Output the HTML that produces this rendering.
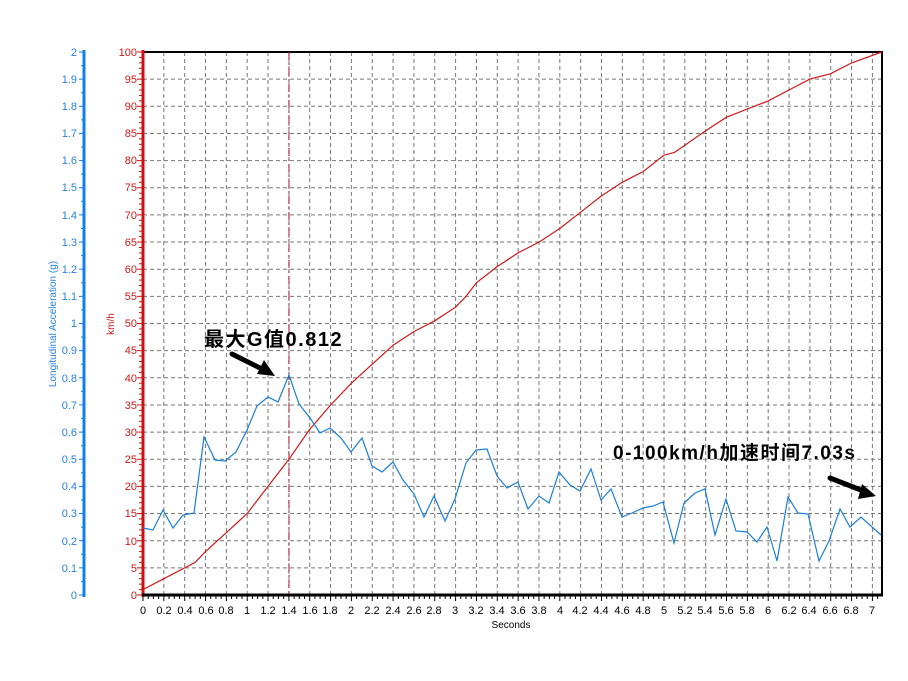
<!DOCTYPE html>
<html><head><meta charset="utf-8"><style>
html,body{margin:0;padding:0;background:#fff;}
svg{display:block;font-family:"Liberation Sans",Arial,sans-serif;}
</style></head><body>
<svg id="s" width="908" height="681" viewBox="0 0 908 681" xmlns="http://www.w3.org/2000/svg">
<g id="grid" stroke="#777" stroke-width="1" stroke-dasharray="4,3"></g>
<rect x="143" y="52" width="739" height="543" fill="none" stroke="#000" stroke-width="2"/>
<line x1="289" y1="52" x2="289" y2="595" stroke="#b0102a" stroke-width="1" stroke-dasharray="8,3,2,3"/>
<g id="ticks"></g>
<line x1="143" y1="50" x2="143" y2="597" stroke="#d01010" stroke-width="3"/>
<line x1="142" y1="595" x2="883" y2="595" stroke="#000" stroke-width="3"/>
<line x1="84" y1="50" x2="84" y2="597" stroke="#1080e8" stroke-width="3"/>
<polyline id="red" fill="none" stroke="#d01818" stroke-width="1.2"/>
<polyline id="blue" fill="none" stroke="#1a7fd6" stroke-width="1.2" points="143,528 153,530 163,510 173,528 183,515 194,513 204,437 215,460 225,461 236,452 247,430 257,406 268,397 278,402 289,375 299,404 310,418 320,433 330,428 341,438 351,452 362,438 372,466 382,472 393,462 403,480 414,494 424,517 434,496 445,521 455,499 466,463 476,450 487,449 497,476 507,488 518,482 528,509 539,496 549,503 559,472 570,485 580,491 591,469 601,500 611,489 622,517 632,513 643,508 653,506 663,502 674,543 684,503 695,493 705,489 715,535 726,499 736,531 747,532 757,542 767,527 777,561 788,497 798,513 808,514 819,561 829,541 840,509 850,527 861,517 871,526 881,535"/>
<g font-size="11" fill="#2a80e0" text-anchor="end">
<text x="77" y="56">2</text><text x="77" y="83">1.9</text><text x="77" y="110">1.8</text><text x="77" y="137">1.7</text><text x="77" y="164">1.6</text><text x="77" y="191">1.5</text><text x="77" y="219">1.4</text><text x="77" y="246">1.3</text><text x="77" y="273">1.2</text><text x="77" y="300">1.1</text><text x="77" y="327">1</text><text x="77" y="354">0.9</text><text x="77" y="382">0.8</text><text x="77" y="409">0.7</text><text x="77" y="436">0.6</text><text x="77" y="463">0.5</text><text x="77" y="490">0.4</text><text x="77" y="517">0.3</text><text x="77" y="545">0.2</text><text x="77" y="572">0.1</text><text x="77" y="599">0</text>
</g>
<g font-size="11" fill="#d01818" text-anchor="end">
<text x="137" y="56">100</text><text x="137" y="83">95</text><text x="137" y="110">90</text><text x="137" y="137">85</text><text x="137" y="164">80</text><text x="137" y="191">75</text><text x="137" y="219">70</text><text x="137" y="246">65</text><text x="137" y="273">60</text><text x="137" y="300">55</text><text x="137" y="327">50</text><text x="137" y="354">45</text><text x="137" y="382">40</text><text x="137" y="409">35</text><text x="137" y="436">30</text><text x="137" y="463">25</text><text x="137" y="490">20</text><text x="137" y="517">15</text><text x="137" y="545">10</text><text x="137" y="572">5</text><text x="137" y="599">0</text>
</g>
<g font-size="11" fill="#000" text-anchor="middle">
<text x="143" y="614">0</text><text x="164" y="614">0.2</text><text x="185" y="614">0.4</text><text x="206" y="614">0.6</text><text x="226" y="614">0.8</text><text x="247" y="614">1</text><text x="268" y="614">1.2</text><text x="289" y="614">1.4</text><text x="310" y="614">1.6</text><text x="330" y="614">1.8</text><text x="351" y="614">2</text><text x="372" y="614">2.2</text><text x="393" y="614">2.4</text><text x="414" y="614">2.6</text><text x="434" y="614">2.8</text><text x="455" y="614">3</text><text x="476" y="614">3.2</text><text x="497" y="614">3.4</text><text x="518" y="614">3.6</text><text x="539" y="614">3.8</text><text x="560" y="614">4</text><text x="580" y="614">4.2</text><text x="601" y="614">4.4</text><text x="622" y="614">4.6</text><text x="643" y="614">4.8</text><text x="664" y="614">5</text><text x="685" y="614">5.2</text><text x="705" y="614">5.4</text><text x="726" y="614">5.6</text><text x="747" y="614">5.8</text><text x="768" y="614">6</text><text x="789" y="614">6.2</text><text x="809" y="614">6.4</text><text x="830" y="614">6.6</text><text x="851" y="614">6.8</text><text x="872" y="614">7</text>
<text x="511" y="628" font-size="10">Seconds</text>
</g>
<text transform="translate(56,324) rotate(-90)" font-size="10" fill="#2a80e0" text-anchor="middle">Longitudinal Acceleration (g)</text>
<text transform="translate(114,324) rotate(-90)" font-size="10" fill="#d01818" text-anchor="middle">km/h</text>
<text x="204" y="346" font-size="20" font-weight="bold" fill="#000" letter-spacing="1.5" style="font-family:'Liberation Sans','Noto Sans CJK SC',sans-serif">最大G值0.812</text>
<text x="613" y="459" font-size="19" font-weight="bold" fill="#000" letter-spacing="1.5" style="font-family:'Liberation Sans','Noto Sans CJK SC',sans-serif">0-100km/h加速时间7.03s</text>
<g stroke="#000" stroke-width="5" stroke-linecap="round"><line x1="232" y1="354" x2="266" y2="371"/><line x1="830" y1="478" x2="866" y2="492"/></g>
<polygon points="275,376 257,374 264,360" fill="#000"/>
<polygon points="876,496 858,499 862,484" fill="#000"/>
</svg>
<script>
var ns="http://www.w3.org/2000/svg";
function L(g,x1,y1,x2,y2,attrs){var l=document.createElementNS(ns,"line");l.setAttribute("x1",x1);l.setAttribute("y1",y1);l.setAttribute("x2",x2);l.setAttribute("y2",y2);for(var k in attrs)l.setAttribute(k,attrs[k]);g.appendChild(l);}
var g=document.getElementById("grid"),t=document.getElementById("ticks");
var X0=143,SX=104.2,Y0=595,SY=5.43;
for(var i=1;i<=35;i++){var x=X0+i*SX/5;L(g,x,52,x,595,{});}
for(var j=1;j<20;j++){var y=Y0-j*5*SY;L(g,143,y,882,y,{});}
for(var i=0;i<=141;i++){var x=X0+i*SX/20;if(x>882)break;L(t,x,595,x,i%4==0?601:599,{stroke:"#000","stroke-width":1});}
for(var j=0;j<=100;j++){var y=Y0-j*SY;L(t,143,y,j%5==0?137:139,y,{stroke:"#d01010","stroke-width":1});}
for(var j=0;j<=40;j++){var y=Y0-j*2.5*SY;L(t,84,y,j%2==0?79:81,y,{stroke:"#1080e8","stroke-width":1});}
var r=[[0,1],[0.2,3],[0.4,5],[0.5,6],[0.6,8],[0.8,11.5],[1,15],[1.2,20],[1.4,25],[1.6,30.5],[1.8,35],[2,39],[2.2,42.5],[2.4,46],[2.6,48.5],[2.8,50.5],[3,53],[3.1,55],[3.2,57.5],[3.4,60.5],[3.6,63],[3.8,65],[4,67.5],[4.2,70.5],[4.4,73.5],[4.6,76],[4.8,78],[5,81],[5.1,81.5],[5.4,85.5],[5.6,88],[5.8,89.5],[6,91],[6.2,93],[6.4,95],[6.6,96],[6.8,98],[7.09,100]];
document.getElementById("red").setAttribute("points",r.map(function(p){return (X0+p[0]*SX).toFixed(1)+","+(Y0-p[1]*SY).toFixed(1);}).join(" "));
</script>
</body></html>
